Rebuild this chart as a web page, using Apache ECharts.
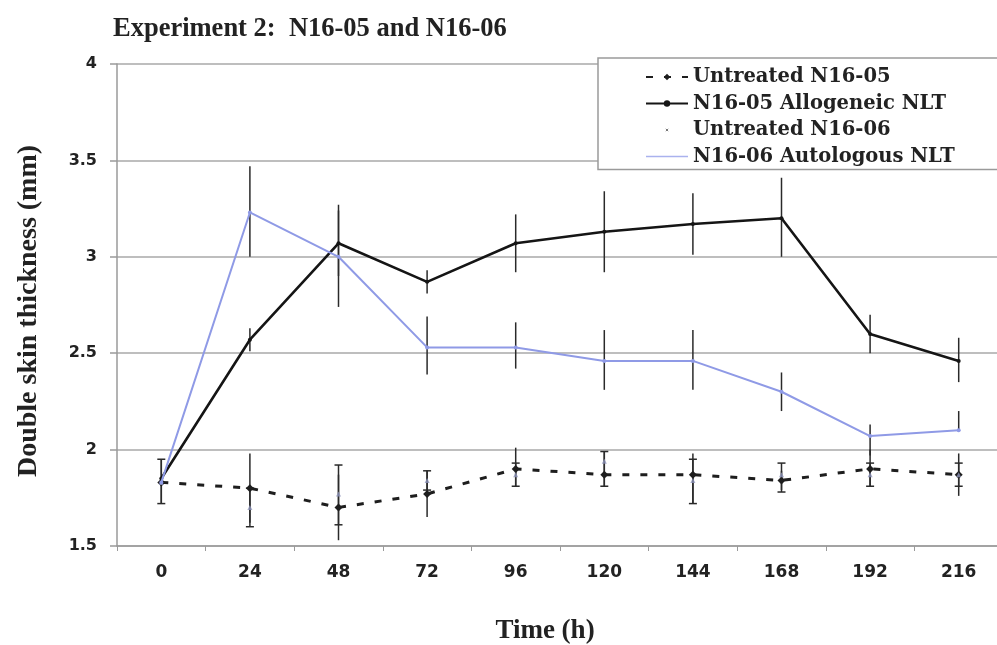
<!DOCTYPE html>
<html>
<head>
<meta charset="utf-8">
<script src="https://cdn.jsdelivr.net/npm/echarts@6/dist/echarts.min.js"></script>
<style>
  html, body { margin: 0; padding: 0; background: #fff; }
  #chart { width: 997px; height: 645px; }
</style>
</head>
<body>
<div id="chart"></div>
<script>
// Time points (h)
const timePoints = ['0', '24', '48', '72', '96', '120', '144', '168', '192', '216'];

// Mean double skin thickness (mm)
const untreated05 = [1.83, 1.80, 1.70, 1.77, 1.90, 1.87, 1.87, 1.84, 1.90, 1.87];
const allogeneic05 = [1.85, 2.57, 3.07, 2.87, 3.07, 3.13, 3.17, 3.20, 2.60, 2.46];
const untreated06 = [1.83, 1.70, 1.77, 1.84, 1.87, 1.94, 1.84, 1.87, 1.87, 1.87];
const autologous06 = [1.83, 3.23, 3.00, 2.53, 2.53, 2.46, 2.46, 2.30, 2.07, 2.10];

// Error bar extents [low, high]
const untreated05Err = [[1.72, 1.95], [1.62, 1.98], [1.53, 1.87], [1.65, 1.89], [1.81, 2.01],
                        [1.81, 1.99], [1.72, 1.98], [1.79, 1.89], [1.81, 2.00], [1.76, 1.98]];
const allogeneic05Err = [null, [2.51, 2.63], [2.90, 3.24], [2.81, 2.93], [2.92, 3.22],
                         [2.92, 3.34], [3.01, 3.33], [3.00, 3.41], [2.50, 2.70], [2.35, 2.58]];
const untreated06Err = [[1.72, 1.95], [1.60, 1.80], [1.61, 1.92], [1.79, 1.89], [1.81, 1.93],
                        [1.81, 1.99], [1.72, 1.95], [1.78, 1.93], [1.81, 1.93], [1.81, 1.93]];
const autologous06Err = [null, [3.00, 3.47], [2.74, 3.27], [2.39, 2.69], [2.42, 2.66],
                         [2.31, 2.62], [2.31, 2.62], [2.20, 2.40], [1.97, 2.13], [2.10, 2.20]];

// Y axis ticks
const yMin = 1.5, yMax = 4, yStep = 0.5;

const serifFont = '"Liberation Serif", "Times New Roman", serif';
const sansBold = '"DejaVu Sans", Verdana, sans-serif';

function errorData(ranges) {
  const out = [];
  ranges.forEach((r, i) => { if (r) out.push([i, r[0], r[1]]); });
  return out;
}

function errorSeries(name, ranges, withCaps) {
  return {
    name: name,
    type: 'custom',
    z: 1,
    silent: true,
    data: errorData(ranges),
    encode: { x: 0, y: [1, 2] },
    renderItem: function (params, api) {
      const lo = api.coord([api.value(0), api.value(1)]);
      const hi = api.coord([api.value(0), api.value(2)]);
      const style = { stroke: '#2a2a2a', lineWidth: 1.5 };
      const children = [{
        type: 'line',
        shape: { x1: lo[0], y1: lo[1], x2: hi[0], y2: hi[1] },
        style: style
      }];
      if (withCaps) {
        const w = 4;
        children.push({ type: 'line', shape: { x1: lo[0] - w, y1: lo[1], x2: lo[0] + w, y2: lo[1] }, style: style });
        children.push({ type: 'line', shape: { x1: hi[0] - w, y1: hi[1], x2: hi[0] + w, y2: hi[1] }, style: style });
      }
      return { type: 'group', children: children };
    }
  };
}

// Legend glyphs: a tiny cross centred in a 42x10 box, and a thin bar
const tinyMarkIcon = 'path://M0 0M42 10M19.5 3.5L22.5 6.5M22.5 3.5L19.5 6.5';
const thinLineIcon = 'path://M0 4.3L42 4.3L42 5.7L0 5.7Z';

const chart = echarts.init(document.getElementById('chart'), null, { renderer: 'canvas' });

chart.setOption({
  animation: false,
  backgroundColor: '#ffffff',
  title: {
    text: 'Experiment 2:  N16-05 and N16-06',
    left: 108,
    top: 11,
    textStyle: { fontFamily: serifFont, fontWeight: 'bold', fontSize: 26.5, color: '#222' }
  },
  legend: {
    orient: 'vertical',
    left: 598,
    top: 58,
    padding: [9, 60, 3, 47],
    itemGap: 6.5,
    itemWidth: 42,
    itemHeight: 8,
    backgroundColor: '#fff',
    borderColor: '#9a9a9a',
    borderWidth: 1.5,
    data: [
      'Untreated N16-05',
      'N16-05 Allogeneic NLT',
      { name: 'Untreated N16-06', icon: tinyMarkIcon, itemStyle: { color: 'none', borderColor: '#555', borderWidth: 1 } },
      { name: 'N16-06 Autologous NLT', icon: thinLineIcon, itemStyle: { color: '#aab2ee' } }
    ],
    textStyle: { fontFamily: '"DejaVu Serif", serif', fontWeight: 'bold', fontSize: 19.5, color: '#222' }
  },
  grid: { left: 117, right: -6, top: 64, bottom: 99, outerBoundsMode: 'none', containLabel: false },
  xAxis: {
    type: 'category',
    data: timePoints,
    boundaryGap: true,
    name: 'Time (h)',
    nameLocation: 'middle',
    nameGap: 72,
    nameTextStyle: { fontFamily: serifFont, fontWeight: 'bold', fontSize: 27, color: '#222', padding: [0, 30, 0, 0] },
    axisLine: { lineStyle: { color: '#9a9a9a', width: 1.5 } },
    axisTick: { show: true, length: 5, lineStyle: { color: '#9a9a9a' } },
    axisLabel: { margin: 18, fontFamily: sansBold, fontWeight: 'bold', fontSize: 17, color: '#222' },
    splitLine: { show: false }
  },
  yAxis: {
    type: 'value',
    min: yMin,
    max: yMax,
    interval: yStep,
    name: 'Double skin thickness (mm)',
    nameLocation: 'middle',
    nameGap: 74,
    nameTextStyle: { fontFamily: serifFont, fontWeight: 'bold', fontSize: 28, color: '#222', padding: [0, 12, 0, 0] },
    axisLine: { show: true, lineStyle: { color: '#9a9a9a', width: 1.5 } },
    axisTick: { show: true, length: 7, lineStyle: { color: '#9a9a9a', width: 1.5 } },
    axisLabel: { margin: 20, fontFamily: sansBold, fontWeight: 'bold', fontSize: 16, color: '#222' },
    splitLine: { show: true, lineStyle: { color: '#a8a8a8', width: 1.5 } }
  },
  series: [
    errorSeries('err-u05', untreated05Err, false),
    errorSeries('err-a05', allogeneic05Err, false),
    errorSeries('err-u06', untreated06Err, true),
    errorSeries('err-a06', autologous06Err, false),
    {
      name: 'Untreated N16-05',
      type: 'line',
      z: 3,
      data: untreated05,
      symbol: 'diamond',
      symbolSize: 8,
      itemStyle: { color: '#1e1e1e' },
      lineStyle: { color: '#1e1e1e', width: 3, type: [7, 11] }
    },
    {
      name: 'N16-05 Allogeneic NLT',
      type: 'line',
      z: 4,
      data: allogeneic05,
      symbol: 'circle',
      symbolSize: 4,
      itemStyle: { color: '#151515' },
      lineStyle: { color: '#151515', width: 2.6 }
    },
    {
      name: 'Untreated N16-06',
      type: 'scatter',
      z: 3,
      data: untreated06,
      symbol: 'triangle',
      symbolSize: 5,
      itemStyle: { color: '#8c92b8' }
    },
    {
      name: 'N16-06 Autologous NLT',
      type: 'line',
      z: 5,
      data: autologous06,
      symbol: 'circle',
      symbolSize: 4,
      itemStyle: { color: '#8f9ae6' },
      lineStyle: { color: '#8f9ae6', width: 2 }
    }
  ]
});
</script>
</body>
</html>
